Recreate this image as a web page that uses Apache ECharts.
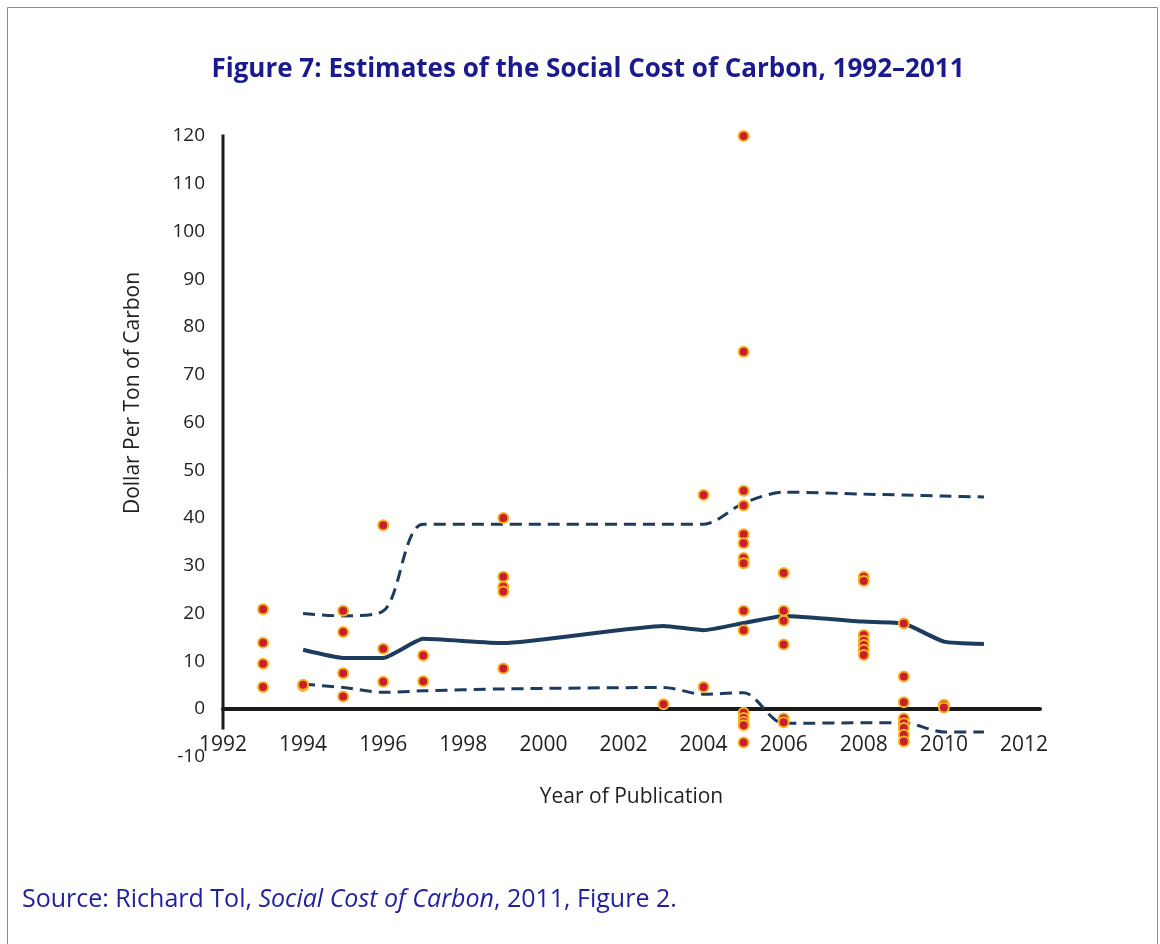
<!DOCTYPE html>
<html>
<head>
<meta charset="utf-8">
<script src="https://cdn.jsdelivr.net/npm/echarts@6/dist/echarts.min.js"></script>
<style>
html,body{margin:0;padding:0;background:#fff;}
#chart{width:1160px;height:944px;}
</style>
</head>
<body>
<div id="chart"></div>
<script>
// ---- data ----
const titleText = 'Figure 7: Estimates of the Social Cost of Carbon, 1992–2011';
const xAxisName = 'Year of Publication';
const yAxisName = 'Dollar Per Ton of Carbon';

// individual estimates (year of publication, $/tC)
const estYears = [
  1993,1993,1993,1993,
  1994,1994,
  1995,1995,1995,1995,
  1996,1996,1996,
  1997,1997,
  1999,1999,1999,1999,1999,
  2003,
  2004,2004,
  2005,2005,2005,2005,2005,2005,2005,2005,2005,2005,2005,2005,2005,2005,2005,
  2006,2006,2006,2006,2006,2006,
  2008,2008,2008,2008,2008,2008,2008,
  2009,2009,2009,2009,2009,2009,2009,2009,
  2010,2010
];
const estValues = [
  20.9,13.9,9.5,4.6,
  4.8,5.1,
  20.6,16.1,7.5,2.6,
  38.5,12.6,5.7,
  11.2,5.8,
  40.0,27.7,25.6,24.6,8.5,
  1.0,
  44.8,4.6,
  120.0,74.8,45.7,42.6,36.6,34.7,31.6,30.5,20.6,16.5,-0.8,-1.9,-2.7,-3.4,-7.0,
  28.5,20.6,18.5,13.5,-2.0,-2.8,
  27.7,26.8,15.5,14.3,13.4,12.4,11.3,
  17.9,6.8,1.4,-2.0,-3.0,-4.0,-5.4,-6.8,
  0.9,0.3
];

// summary lines
const lineYears = [1994,1995,1996,1997,1999,2003,2004,2005,2006,2008,2009,2010,2011];
const meanValues  = [12.4,10.7,10.7,14.7,13.8,17.4,16.5,18.0,19.5,18.3,17.9,14.1,13.6];
const upperValues = [20.0,19.5,20.5,38.7,38.7,38.7,38.7,43.1,45.4,45.0,44.8,44.6,44.4];
const lowerValues = [5.2,4.5,3.5,3.8,4.2,4.5,3.1,3.4,-3.0,-2.9,-2.9,-4.8,-4.8];

// vertical axis line extent (value units)
const yLineYears = [1992, 1992];
const yLineValues = [-4.3, 120.8];

// axis ticks
const xMin = 1992, xMax = 2012.4, xStep = 2;
const yMin = -10, yMax = 120, yStep = 10;

// ---- build ----
const scatterData = estYears.map((y, i) => [y, estValues[i]]);
const pair = vals => lineYears.map((y, i) => [y, vals[i]]);

const navy = '#1d3b5c';
const blueText = '#1f1fa0';
const tickFont = '"Open Sans", "DejaVu Sans", sans-serif';

const chart = echarts.init(document.getElementById('chart'), null, {renderer: 'canvas'});
chart.setOption({
  backgroundColor: '#ffffff',
  animation: false,
  grid: {left: 223, top: 136, width: 817, height: 620.75, containLabel: false},
  xAxis: {
    type: 'value', min: xMin, max: xMax, interval: xStep,
    name: xAxisName, nameLocation: 'middle', nameGap: 30,
    nameTextStyle: {fontFamily: tickFont, fontSize: 21, color: '#222'},
    axisLine: {show: true, onZero: true, lineStyle: {color: '#1a1a1a', width: 4}},
    axisTick: {show: false},
    splitLine: {show: false},
    axisLabel: {
      margin: -22, fontFamily: tickFont, fontSize: 21, color: '#222',
      showMaxLabel: true,
      formatter: v => (Math.abs(v % 2) < 1e-6 ? String(Math.round(v)) : '')
    }
  },
  yAxis: {
    type: 'value', min: yMin, max: yMax, interval: yStep,
    axisLine: {show: false},
    axisTick: {show: false},
    splitLine: {show: false},
    axisLabel: {margin: 18, fontFamily: tickFont, fontSize: 19, color: '#222'}
  },
  series: [
    {
      type: 'line', data: yLineYears.map((y, i) => [y, yLineValues[i]]),
      symbol: 'none', z: 1, silent: true,
      lineStyle: {color: '#1a1a1a', width: 3}
    },
    {
      type: 'line', data: pair(upperValues), smooth: 0.3, symbol: 'none', z: 2,
      lineStyle: {color: navy, width: 3, type: [12, 7]}
    },
    {
      type: 'line', data: pair(lowerValues), smooth: 0.3, symbol: 'none', z: 2,
      lineStyle: {color: navy, width: 3, type: [12, 7]}
    },
    {
      type: 'line', data: pair(meanValues), smooth: 0.15, symbol: 'none', z: 2,
      lineStyle: {color: navy, width: 4}
    },
    {
      type: 'scatter', data: scatterData, symbol: 'circle', symbolSize: 10, z: 3,
      itemStyle: {color: '#c8202a', borderColor: '#f6b324', borderWidth: 2, opacity: 1}
    }
  ],
  graphic: [
    {
      type: 'rect', silent: true,
      shape: {x: 7.5, y: 7.5, width: 1150, height: 960},
      style: {fill: 'none', stroke: '#8a8a8a', lineWidth: 1}
    },
    {
      type: 'text', x: 588, y: 70,
      style: {
        text: titleText, textAlign: 'center', textVerticalAlign: 'middle',
        font: 'bold 26px "Open Sans", sans-serif', fill: '#1a1a8c'
      }
    },
    {
      type: 'text', x: 133, y: 393, rotation: Math.PI / 2,
      style: {
        text: yAxisName, textAlign: 'center', textVerticalAlign: 'middle',
        font: '21px "Open Sans", sans-serif', fill: '#222'
      }
    },
    {
      type: 'text', x: 22, y: 900,
      style: {
        text: '{a|Source: Richard Tol, }{i|Social Cost of Carbon}{a|, 2011, Figure 2.}',
        textVerticalAlign: 'middle', fill: blueText,
        rich: {
          a: {fontFamily: '"Open Sans", sans-serif', fontSize: 25, fill: blueText, color: blueText},
          i: {fontFamily: '"Open Sans", sans-serif', fontSize: 25, fontStyle: 'italic', fill: blueText, color: blueText}
        }
      }
    }
  ]
});
</script>
</body>
</html>
